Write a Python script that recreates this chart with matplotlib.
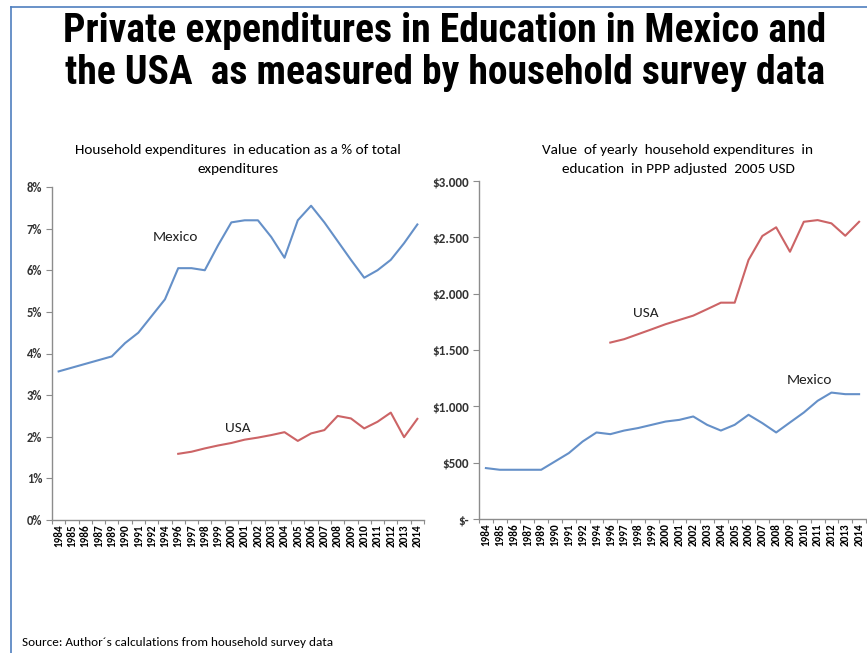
import numpy as np
import matplotlib
matplotlib.use("Agg")
import matplotlib.pyplot as plt
from matplotlib.ticker import FuncFormatter, FixedLocator

# Survey years shown on the category axis
years = ["1984", "1985", "1986", "1987", "1989", "1990", "1991", "1992", "1994",
         "1996", "1997", "1998", "1999", "2000", "2001", "2002", "2003", "2004",
         "2005", "2006", "2007", "2008", "2009", "2010", "2011", "2012", "2013", "2014"]

# Household education spending as share of total spending (%)
mexico_share = [3.57, 3.66, 3.75, 3.84, 3.93, 4.25, 4.50, 4.90, 5.30, 6.05, 6.05, 6.00,
                6.60, 7.15, 7.20, 7.20, 6.80, 6.30, 7.20, 7.55, 7.15, 6.70, 6.25, 5.82,
                6.00, 6.25, 6.65, 7.10]
usa_share = [np.nan] * 9 + [1.59, 1.64, 1.72, 1.79, 1.85, 1.93, 1.98, 2.04, 2.11,
                            1.90, 2.08, 2.16, 2.50, 2.44, 2.20, 2.36, 2.58, 1.99, 2.43]

# Yearly household education spending, PPP adjusted 2005 USD
mexico_usd = [452, 437, 437, 437, 437, 511, 585, 688, 768, 753, 785, 807, 836, 865,
              880, 910, 836, 785, 836, 925, 851, 768, 857, 945, 1049, 1122, 1108, 1108]
usa_usd = [np.nan] * 9 + [1566, 1596, 1640, 1684, 1729, 1767, 1805, 1862, 1920, 1920,
                          2299, 2512, 2589, 2372, 2638, 2653, 2624, 2514, 2638]

W, H = 867, 653
fig = plt.figure(figsize=(W / 100, H / 100), dpi=100)
fig.patch.set_facecolor("white")

BLUE = "#6590C8"
RED = "#CC6466"
BODY = "Carlito"
HEAD = "Roboto Condensed"


def px_axes(x0, y0, x1, y1):
    return fig.add_axes([x0 / W, 1 - y1 / H, (x1 - x0) / W, (y1 - y0) / H])


def style(ax):
    for s in ("top", "right"):
        ax.spines[s].set_visible(False)
    for s in ("left", "bottom"):
        ax.spines[s].set_color("#8C8C8C")
        ax.spines[s].set_linewidth(1.0)
    n = len(years)
    ax.set_xlim(-0.5, n - 0.5)
    ax.xaxis.set_major_locator(FixedLocator(np.arange(n)))
    ax.set_xticklabels(years, rotation=90, fontsize=8, fontweight="bold",
                       family=BODY, va="top")
    ax.xaxis.set_minor_locator(FixedLocator(np.arange(-0.5, n, 1.0)))
    ax.tick_params(axis="x", which="major", length=0, pad=3)
    ax.tick_params(axis="x", which="minor", length=3, color="#8C8C8C", width=0.8)
    ax.tick_params(axis="y", length=4, color="#8C8C8C", width=0.8, pad=3)


def style_yticks(ax, size):
    for lab in ax.get_yticklabels():
        lab.set_family(BODY)
        lab.set_fontsize(size)
        lab.set_fontweight("bold")
        lab.set_color("#333333")


x = np.arange(len(years))

# Left panel: share of total expenditures
axl = px_axes(52, 187, 424, 520)
style(axl)
axl.set_ylim(0, 8)
axl.set_yticks(np.arange(0, 9, 1))
axl.yaxis.set_major_formatter(FuncFormatter(lambda v, p: f"{v:.0f}%"))
style_yticks(axl, 9)
ms = np.array(mexico_share, dtype=float)
us = np.array(usa_share, dtype=float)
axl.plot(x, ms, color=BLUE, lw=1.5)
axl.plot(x[~np.isnan(us)], us[~np.isnan(us)], color=RED, lw=1.5)
axl.text(7.1, 6.81, "Mexico", fontsize=11, family=BODY, color="#222222",
         ha="left", va="center")
axl.text(12.5, 2.21, "USA", fontsize=11, family=BODY, color="#222222",
         ha="left", va="center")

# Right panel: value in PPP adjusted 2005 USD
axr = px_axes(479, 181, 866, 519)
style(axr)
axr.set_ylim(0, 3000)
axr.set_yticks(np.arange(0, 3001, 500))


def usd_fmt(v, p):
    if v == 0:
        return "$-"
    return "$" + f"{int(v):,}".replace(",", ".")


axr.yaxis.set_major_formatter(FuncFormatter(usd_fmt))
style_yticks(axr, 9.5)
mu = np.array(mexico_usd, dtype=float)
uu = np.array(usa_usd, dtype=float)
axr.plot(x, mu, color=BLUE, lw=1.5)
axr.plot(x[~np.isnan(uu)], uu[~np.isnan(uu)], color=RED, lw=1.5)
axr.text(10.66, 1829, "USA", fontsize=11, family=BODY, color="#222222",
         ha="left", va="center")
axr.text(21.8, 1235, "Mexico", fontsize=11, family=BODY, color="#222222",
         ha="left", va="center")

# Titles
fig.text(445 / W, 1 - 42 / H, "Private expenditures in Education in Mexico and",
         ha="center", va="baseline", fontsize=28.5, fontweight="bold", family=HEAD)
fig.text(445 / W, 1 - 84 / H, "the USA  as measured by household survey data",
         ha="center", va="baseline", fontsize=28.5, fontweight="bold", family=HEAD)

fig.text(238 / W, 1 - 150 / H, "Household expenditures  in education as a % of total",
         ha="center", va="center", fontsize=11, family=BODY)
fig.text(238 / W, 1 - 169 / H, "expenditures",
         ha="center", va="center", fontsize=11, family=BODY)
fig.text(678 / W, 1 - 150 / H, "Value  of yearly  household expenditures  in",
         ha="center", va="center", fontsize=11, family=BODY)
fig.text(678 / W, 1 - 169 / H, "education  in PPP adjusted  2005 USD",
         ha="center", va="center", fontsize=11, family=BODY)

fig.text(22 / W, 1 - 642 / H, "Source: Author\u00b4s calculations from household survey data",
         ha="left", va="center", fontsize=9.5, family=BODY)

# Slide frame
frame_c = "#4F7FBF"
fig.add_artist(plt.Line2D([11 / W, 11 / W], [0, 1 - 7 / H], color=frame_c, lw=1.2,
                          transform=fig.transFigure))
fig.add_artist(plt.Line2D([11 / W, 1], [1 - 7 / H, 1 - 7 / H], color=frame_c, lw=1.2,
                          transform=fig.transFigure))

fig.savefig("out.png", dpi=100)
